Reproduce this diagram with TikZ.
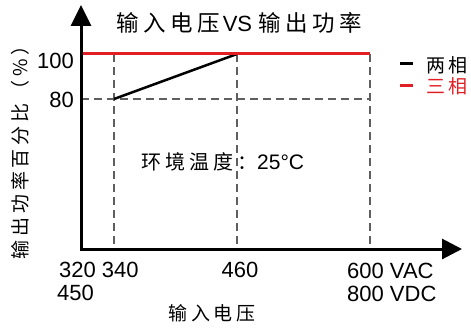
\documentclass[tikz,border=0pt]{standalone}
\usepackage{fontspec}
\setmainfont{Liberation Sans}
\newfontfamily\cjk{Noto Sans CJK SC}[LetterSpace=20]
\usetikzlibrary{arrows.meta}
\definecolor{phasered}{RGB}{225,30,35}
\definecolor{guidegray}{RGB}{95,95,95}

\begin{document}
\begin{tikzpicture}[
  x = 1pt, y = -1pt,
  every node/.style = {inner sep = 0pt},
  axis/.style = {line width = 3pt, {Triangle[length=21pt, width=20pt]}-{Triangle[length=20pt, width=20pt]}},
  guide/.style = {guidegray, line width = 1.1pt, dash pattern = on 8pt off 5pt},
  num/.style = {font = \fontsize{22}{26}\selectfont},
  zh/.style = {font = \fontsize{19}{23}\cjk},
  ]
  \useasboundingbox (0,0) rectangle (471,329);

  \coordinate (origin) at (81,249);
  \coordinate (ytip) at (81,5);
  \coordinate (xtip) at (462,249);
  \coordinate (low) at (114,99);
  \coordinate (knee) at (237,54);
  \coordinate (full) at (370,54);
  \coordinate (top) at (81,54);

  % guides
  \foreach \x in {114,237,370}
    \draw[guide] (\x,54) -- (\x,249);
  \draw[guide] (origin |- low) -- (full |- low);

  % curves
  \draw[line width = 2.5pt] (low) -- (knee);
  \draw[phasered, line width = 3pt] (top) -- (full);

  % axes
  \draw[axis] (ytip) |- (xtip);

  \node[num] (title) at (239,23) {{\fontsize{22.5}{26}\cjk 输入电压}\hspace{3pt}VS {\fontsize{22.5}{26}\cjk 输出功率}};
  \node[zh, rotate = 90] (ylabel) at (20,148) {输出功率百分比（\%）};
  \node[num, anchor = base east] (y100) at (74,69) {100};
  \node[num, anchor = base east] (y80) at (74,107) {80};
  \node[num, anchor = base west] (x320) at (59,277) {320 340};
  \node[num, anchor = base west] (x450) at (57,300) {450};
  \node[num, anchor = base] (x460) at (240,277) {460};
  \node[num, anchor = base west] (xvac) at (347,278) {600 VAC};
  \node[num, anchor = base west] (xvdc) at (347,301) {800 VDC};
  \node[zh] (xlabel) at (212,313) {输入电压};
  \node[anchor = west, font = \fontsize{21}{25}\selectfont] (temp) at (141,162) {{\fontsize{20}{24}\cjk 环境温度：}25°C};

  % legend
  \coordinate (two) at (400,64);
  \coordinate (three) at (400,85);
  \draw[line width = 3pt] (two) -- ++(13,0);
  \draw[phasered, line width = 3pt] (three) -- ++(13,0);
  \node[zh, anchor = west] (twolbl) at (426,65) {两相};
  \node[zh, anchor = west, text = phasered] (threelbl) at (426,86) {三相};
\end{tikzpicture}
\end{document}
